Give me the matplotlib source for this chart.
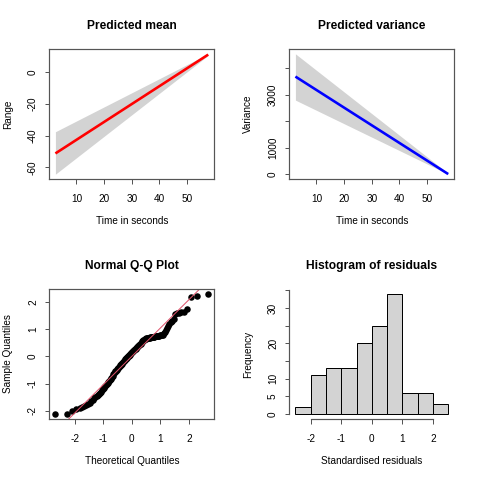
import numpy as np
import matplotlib
matplotlib.use('Agg')
import matplotlib.pyplot as plt
from statistics import NormalDist

plt.rcParams['font.family'] = ['Liberation Sans', 'DejaVu Sans']
plt.rcParams['font.size'] = 10
plt.rcParams['axes.unicode_minus'] = False

# prediccion lineal de la media y la varianza
tiempo = [2.4, 57.6]
media = [-51.3, 11.1]
media_sup = [-37.6, 11.6]
media_inf = [-64.4, 10.6]
varianza = [3690, 5]
var_sup = [4550, 30]
var_inf = [2800, 0]

# residuos estandarizados (ordenados)
residuos = [
    -2.12, -2.10,
    -1.99, -1.94, -1.90, -1.86, -1.82, -1.78, -1.74, -1.70, -1.65, -1.59, -1.53,
    -1.49, -1.45, -1.41, -1.37, -1.33, -1.29, -1.25, -1.21, -1.17, -1.13, -1.09, -1.05, -1.01,
    -0.98, -0.94, -0.90, -0.86, -0.82, -0.78, -0.74, -0.70, -0.66, -0.62, -0.58, -0.55, -0.52,
    -0.48, -0.46, -0.43, -0.41, -0.38, -0.36, -0.33, -0.31, -0.28, -0.26,
    -0.23, -0.21, -0.18, -0.16, -0.13, -0.11, -0.08, -0.06, -0.04, -0.02,
    0.01, 0.03, 0.05, 0.07, 0.09, 0.11, 0.13, 0.15, 0.17, 0.19, 0.21, 0.23, 0.25,
    0.27, 0.29, 0.31, 0.33, 0.35, 0.37, 0.39, 0.41, 0.43, 0.45, 0.47, 0.49,
    0.52, 0.55, 0.58, 0.60,
    0.62, 0.63, 0.64, 0.65, 0.66, 0.67, 0.675, 0.68, 0.69, 0.695, 0.70, 0.705, 0.71,
    0.715, 0.72, 0.725, 0.73, 0.735, 0.74, 0.745, 0.75, 0.755, 0.76, 0.77, 0.78, 0.79, 0.80,
    0.85, 0.91, 0.97,
    1.04, 1.11, 1.18, 1.25, 1.31, 1.37,
    1.55, 1.58, 1.60, 1.62, 1.64, 1.76,
    2.18, 2.22, 2.30,
]
bordes_hist = [-2.5, -2.0, -1.5, -1.0, -0.5, 0.0, 0.5, 1.0, 1.5, 2.0, 2.5]

gris = '#D3D3D3'
borde = '#555555'


def estilo_r(ax, caja=True):
    ax.use_sticky_edges = False
    ax.margins(0.04)
    for s in ax.spines.values():
        s.set_color(borde)
        s.set_linewidth(1.2)
        s.set_visible(caja)
    ax.tick_params(direction='out', length=4.5, width=1, color=borde, labelsize=10)
    ax.tick_params(axis='x', pad=10.5)
    ax.tick_params(axis='y', pad=6.8, labelrotation=90)
    for t in ax.get_yticklabels():
        t.set_va('center')


def etiquetas(ax, titulo, xl, yl):
    ax.set_title(titulo, fontsize=12, fontweight='bold', pad=20)
    ax.set_xlabel(xl, fontsize=10)
    ax.set_ylabel(yl, fontsize=10)
    ax.xaxis.label.set_va('center')
    ax.yaxis.label.set_va('center')
    ax.xaxis.set_label_coords(0.5, -41.7 / 130)
    ax.yaxis.set_label_coords(-41.0 / 165, 0.5)


fig = plt.figure(figsize=(480 / 72, 480 / 72), dpi=72)
ancho, alto = 165 / 480, 130 / 480
izq, der = 49.3 / 480, 289.3 / 480
arriba, abajo = 1 - 179 / 480, 1 - 419 / 480

# media
ax1 = fig.add_axes([izq, arriba, ancho, alto])
ax1.fill_between(tiempo, media_inf, media_sup, color=gris, lw=0)
ax1.plot(tiempo, media, color='red', lw=2.6, solid_capstyle='butt')
estilo_r(ax1)
ax1.set_xticks([10, 20, 30, 40, 50])
ax1.set_yticks([-60, -40, -20, 0])
for t in ax1.get_yticklabels():
    t.set_va('center')
etiquetas(ax1, 'Predicted mean', 'Time in seconds', 'Range')

# varianza
ax2 = fig.add_axes([der, arriba, ancho, alto])
ax2.fill_between(tiempo, var_inf, var_sup, color=gris, lw=0)
ax2.plot(tiempo, varianza, color='blue', lw=2.6, solid_capstyle='butt')
estilo_r(ax2)
ax2.set_xticks([10, 20, 30, 40, 50])
ax2.set_yticks([0, 1000, 2000, 3000, 4000])
ax2.set_yticklabels(['0', '1000', '', '3000', ''])
for t in ax2.get_yticklabels():
    t.set_va('center')
etiquetas(ax2, 'Predicted variance', 'Time in seconds', 'Variance')

# Q-Q normal
n = len(residuos)
muestra = np.sort(np.array(residuos))
teoricos = np.array([NormalDist().inv_cdf((i - 0.5) / n) for i in range(1, n + 1)])
ax3 = fig.add_axes([izq, abajo, ancho, alto])
ax3.plot(teoricos, muestra, 'o', color='black', ms=6.5, mew=0)
estilo_r(ax3)
q_y = np.quantile(muestra, [0.25, 0.75])
q_x = np.array([NormalDist().inv_cdf(0.25), NormalDist().inv_cdf(0.75)])
pendiente = (q_y[1] - q_y[0]) / (q_x[1] - q_x[0])
ax3.axline((q_x[0], q_y[0]), slope=pendiente, color='#DF536B', lw=1)
ax3.set_xticks([-2, -1, 0, 1, 2])
ax3.set_yticks([-2, -1, 0, 1, 2])
for t in ax3.get_yticklabels():
    t.set_va('center')
etiquetas(ax3, 'Normal Q-Q Plot', 'Theoretical Quantiles', 'Sample Quantiles')

# histograma
ax4 = fig.add_axes([der, abajo, ancho, alto])
ax4.hist(residuos, bins=bordes_hist, color=gris, edgecolor='black', linewidth=1)
estilo_r(ax4, caja=False)
ax4.spines['left'].set_visible(True)
ax4.spines['bottom'].set_visible(True)
ax4.spines['left'].set_bounds(0, 35)
ax4.spines['bottom'].set_bounds(-2, 2)
ax4.set_xticks([-2, -1, 0, 1, 2])
ax4.set_yticks([0, 5, 10, 15, 20, 25, 30, 35])
ax4.set_yticklabels(['0', '5', '10', '', '20', '', '30', ''])
for t in ax4.get_yticklabels():
    t.set_va('center')
etiquetas(ax4, 'Histogram of residuals', 'Standardised residuals', 'Frequency')

fig.savefig('out.png', dpi=72)
